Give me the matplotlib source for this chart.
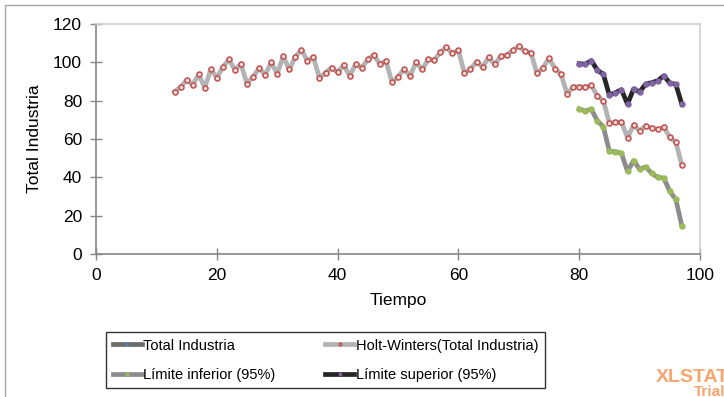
import numpy as np
import matplotlib.pyplot as plt
from matplotlib.patches import Rectangle

plt.rcParams['font.family'] = ['Liberation Sans', 'DejaVu Sans']

# Holt-Winters fitted/forecast series (t = 13..97)
t_hw = list(range(13, 98))
holt_winters = [
    84.7, 87.0, 90.8, 88.3, 93.7, 86.8, 96.3, 92.0, 97.5, 101.5,
    96.2, 99.1, 88.9, 92.3, 97.0, 93.4, 100.0, 94.1, 103.1, 96.3,
    102.8, 106.6, 100.9, 102.6, 91.8, 94.6, 97.2, 94.9, 98.4, 93.0,
    99.1, 97.2, 101.5, 103.8, 99.1, 100.7, 89.6, 92.5, 96.3, 93.0,
    100.0, 96.3, 101.5, 101.2, 105.2, 107.8, 104.7, 106.3, 94.3, 96.5,
    100.3, 97.5, 102.6, 98.9, 103.1, 103.8, 106.3, 108.5, 105.7, 105.0,
    94.3, 97.2, 102.1, 96.7, 93.7, 83.6, 87.1, 87.3, 87.0, 88.0,
    82.6, 80.0, 68.2, 68.7, 68.9, 60.7, 67.3, 64.3, 66.9, 65.6,
    65.0, 66.2, 60.9, 58.3, 46.3,
]

# confidence bounds (t = 80..97)
t_ci = list(range(80, 98))
lower = [75.6, 74.6, 75.6, 69.5, 66.4, 53.6, 53.4, 52.5, 43.1, 48.7,
         44.3, 45.4, 42.1, 40.0, 39.6, 32.7, 28.5, 14.6]
upper = [99.3, 99.0, 100.9, 96.0, 93.7, 82.8, 84.2, 85.7, 78.2, 86.1,
         84.5, 88.7, 89.4, 90.4, 93.0, 89.2, 88.5, 78.1]

# original series is not visible in the picture, only in the legend
t_total = []
total = []

fig = plt.figure(figsize=(7.24, 3.97), dpi=100)
ax = fig.add_axes([96 / 724, 1 - 254 / 397, 604 / 724, 230 / 397])

# outer chart frame
fig.patches.append(Rectangle((5 / 724, -0.1), 1.1, 1 - 5 / 397 + 0.1,
                             transform=fig.transFigure, fill=False,
                             edgecolor='#a6a6a6', linewidth=1))

lw = 3.4
h_total, = ax.plot(t_total, total, color='#6b6b6b', lw=lw, marker='o', ms=3,
                   mfc='#4f81bd', mec='#4f81bd', label='Total Industria')
h_hw, = ax.plot(t_hw, holt_winters, color='#b3b3b3', lw=lw, marker='o',
                ms=3.6, mfc='#f2dcdb', mec='#c0504d', mew=1.1,
                label='Holt-Winters(Total Industria)')
h_lo, = ax.plot(t_ci, lower, color='#8c8c8c', lw=lw, marker='o', ms=3.6,
                mfc='#9bbb59', mec='#9bbb59', label='Límite inferior (95%)')
h_up, = ax.plot(t_ci, upper, color='#262626', lw=lw, marker='o', ms=3.6,
                mfc='#8064a2', mec='#8064a2', label='Límite superior (95%)')

ax.set_xlim(0, 100)
ax.set_ylim(0, 120)
ax.set_xticks(range(0, 101, 20))
ax.set_yticks(range(0, 121, 20))
ax.tick_params(direction='inout', length=8, width=1, color='#868686',
               labelsize=12.5, pad=6)
for s in ['left', 'bottom']:
    ax.spines[s].set_color('#868686')
    ax.spines[s].set_linewidth(1.2)
for s in ['top', 'right']:
    ax.spines[s].set_color('#d0d0d0')
    ax.spines[s].set_linewidth(1.2)

ax.set_xlabel('Tiempo', fontsize=12.5, labelpad=7)
ax.set_ylabel('Total Industria', fontsize=12.5, labelpad=8)

handles = [h_total, h_lo, h_hw, h_up]
leg = fig.legend(handles=handles, labels=[h.get_label() for h in handles],
                 loc='upper left', bbox_to_anchor=(106 / 724, 1 - 332 / 397),
                 ncol=2, fontsize=10.5, frameon=True,
                 fancybox=False, edgecolor='black', handlelength=2.0,
                 handletextpad=0.1, borderpad=0.45, labelspacing=1.05,
                 borderaxespad=0, markerscale=0.5, columnspacing=3.4)
leg.get_frame().set_linewidth(1)

fig.text(656 / 724, 1 - 378 / 397, 'XLSTAT', color='#f7a46f', fontsize=14,
         fontweight='bold', va='center', ha='left')
fig.text(694 / 724, 1 - 392 / 397, 'Trial', color='#f7a46f', fontsize=11,
         fontweight='bold', va='center', ha='left')

fig.savefig('out.png', dpi=100)
